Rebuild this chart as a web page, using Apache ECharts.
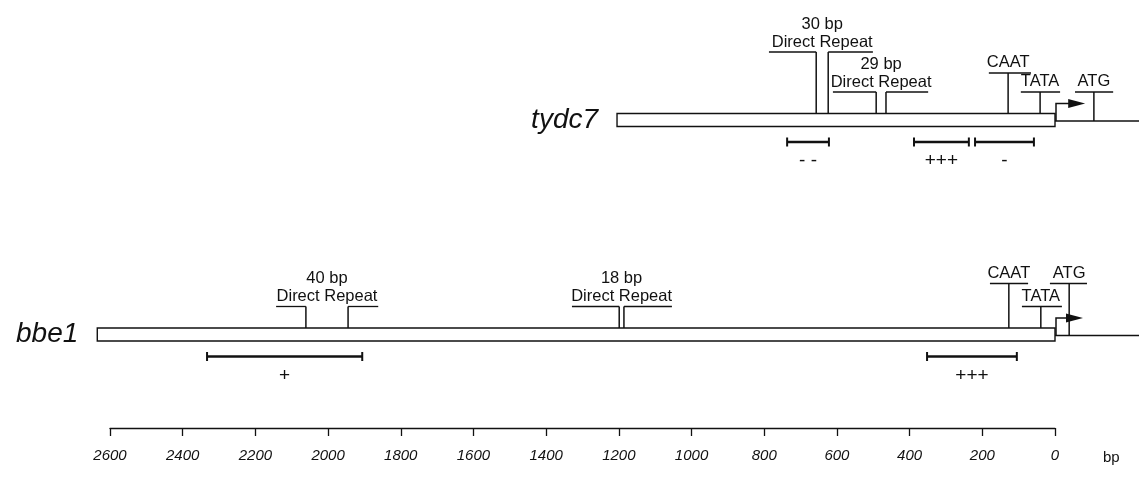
<!DOCTYPE html>
<html>
<head>
    <meta charset="UTF-8">
    <title>tydc7 / bbe1 promoter map</title>
    <script type="text/javascript" src="https://cdn.jsdelivr.net/npm/echarts@6/dist/echarts.min.js"></script>
    <style>
        html,body{
            margin: 0;
            padding: 0;
            background: #fff;
        }
        #main{
            width: 1139px;
            height: 493px;
        }
    </style>
</head>
<body>
<div id="main"></div>
<script>
    // positions are bp upstream of the transcription start (negative = downstream)
    var geneNames = ['tydc7', 'bbe1'];
    var promoterStart = [1205, 2635];
    var codingEnd = [-240, -240];
    var arrowTip = [-83, -77];

    // direct repeats: [bar start, post] on the left, [post, bar end] on the right
    var repeatGene = [0, 0, 1, 1];
    var repeatSize = ['30 bp', '29 bp', '40 bp', '18 bp'];
    var repeatLeftBar = [[787, 657], [611, 492], [2143, 2061], [1329, 1199]];
    var repeatRightBar = [[624, 501], [465, 349], [1945, 1862], [1186, 1054]];

    // CAAT / TATA / ATG
    var motifGene = [0, 0, 0, 1, 1, 1];
    var motifName = ['CAAT', 'TATA', 'ATG', 'CAAT', 'TATA', 'ATG'];
    var motifPos = [129, 41, -107, 127, 39, -39];
    var motifBar = [[182, 66], [94, -14], [-55, -160], [179, 74], [91, -19], [14, -88]];

    // deletion fragments and their activity
    var delGene = [0, 0, 0, 1, 1];
    var delFrom = [737, 388, 220, 2333, 352];
    var delTo = [622, 237, 58, 1906, 105];
    var delActivity = ['- -', '+++', '-', '+', '+++'];

    // scale bar
    var scaleMin = 0;
    var scaleMax = 2600;
    var scaleStep = 200;

    // ---- layout (heights in px above the middle of the promoter box) ----
    var repeatLevel = [68, 28, 28, 28];
    var motifLevel = [47, 28, 28, 51, 28, 51];
    var trackTop = [0, 214.5];
    var BOX_H = 6.5;
    var ARROW_Y = 16.5;
    var LINE_Y = -1;
    var DEL_Y = -22;
    var DEL_TXT = -41;
    var INK = '#111';
    var FONT = '"Liberation Sans", Arial, sans-serif';

    function txt(s, x, y, size, italic, align) {
        return {
            type: 'text',
            style: {
                text: s, x: x, y: y, fill: INK,
                fontSize: size, fontFamily: FONT,
                fontStyle: italic ? 'italic' : 'normal',
                align: align || 'center', verticalAlign: 'middle'
            }
        };
    }
    function seg(x1, y1, x2, y2, w) {
        return {type: 'line', shape: {x1: x1, y1: y1, x2: x2, y2: y2}, style: {stroke: INK, lineWidth: w || 1.4}};
    }

    function renderGene(params, api) {
        var g = api.value(4);
        var s = api.coord([api.value(0), 0]);
        var e = api.coord([api.value(1), 0]);
        var top = api.coord([0, BOX_H])[1];
        var bot = api.coord([0, -BOX_H])[1];
        var lineY = api.coord([0, LINE_Y])[1];
        var cEnd = api.coord([api.value(2), 0])[0];
        var tip = api.coord([api.value(3), ARROW_Y]);
        return {
            type: 'group',
            children: [
                {type: 'rect', shape: {x: s[0], y: top, width: e[0] - s[0], height: bot - top},
                    style: {fill: '#fff', stroke: INK, lineWidth: 1.4}},
                seg(e[0], lineY, cEnd, lineY, 1.3),
                {type: 'polyline', shape: {points: [[e[0] + 1, lineY], [e[0] + 1, tip[1]], [tip[0] - 12, tip[1]]]},
                    style: {stroke: INK, lineWidth: 1.5, fill: 'none'}},
                {type: 'polygon', shape: {points: [[tip[0] - 17, tip[1] - 4.5], [tip[0], tip[1]], [tip[0] - 17, tip[1] + 4.5]]},
                    style: {fill: INK}},
                txt(geneNames[g], s[0] - 19, s[1], 28, true, 'right')
            ]
        };
    }

    function renderRepeat(params, api) {
        var i = api.value(5);
        var lv = api.value(4);
        var boxTop = api.coord([0, BOX_H])[1];
        var a = api.coord([api.value(0), lv]);
        var p1 = api.coord([api.value(1), lv]);
        var p2 = api.coord([api.value(2), lv]);
        var b = api.coord([api.value(3), lv]);
        var mid = (p1[0] + p2[0]) / 2;
        return {
            type: 'group',
            children: [
                seg(a[0], a[1], p1[0], p1[1], 1.3),
                seg(p1[0], p1[1], p1[0], boxTop, 1.5),
                seg(p2[0], p2[1], p2[0], boxTop, 1.5),
                seg(p2[0], p2[1], b[0], b[1], 1.3),
                txt('Direct Repeat', mid, api.coord([0, lv + 10])[1], 16.5),
                txt(repeatSize[i], mid, api.coord([0, lv + 28])[1], 16.5)
            ]
        };
    }

    function renderMotif(params, api) {
        var i = api.value(4);
        var lv = api.value(3);
        var p = api.coord([api.value(0), lv]);
        var base = motifName[i] === 'ATG' ? LINE_Y : BOX_H;
        var baseY = api.coord([0, base])[1];
        var b1 = api.coord([api.value(1), lv]);
        var b2 = api.coord([api.value(2), lv]);
        return {
            type: 'group',
            children: [
                seg(p[0], baseY, p[0], p[1], 1.5),
                seg(b1[0], b1[1], b2[0], b2[1], 1.3),
                txt(motifName[i], p[0], api.coord([0, lv + 10.5])[1], 16.5)
            ]
        };
    }

    function renderDeletion(params, api) {
        var i = api.value(2);
        var a = api.coord([api.value(0), DEL_Y]);
        var b = api.coord([api.value(1), DEL_Y]);
        return {
            type: 'group',
            children: [
                seg(a[0], a[1], b[0], b[1], 2.4),
                seg(a[0], a[1] - 4.5, a[0], a[1] + 4.5, 2),
                seg(b[0], b[1] - 4.5, b[0], b[1] + 4.5, 2),
                txt(delActivity[i], (a[0] + b[0]) / 2, api.coord([0, DEL_TXT])[1], 19)
            ]
        };
    }

    var grids = [], xAxes = [], yAxes = [], series = [];
    for (var g = 0; g < geneNames.length; g++) {
        grids.push({left: 110, right: 84, top: trackTop[g], height: 190});
        xAxes.push({gridIndex: g, type: 'value', min: scaleMin, max: scaleMax, inverse: true, show: false});
        yAxes.push({gridIndex: g, type: 'value', min: -70, max: 120, show: false});

        series.push({
            type: 'custom', xAxisIndex: g, yAxisIndex: g, clip: false, silent: true,
            renderItem: renderGene,
            data: [[promoterStart[g], 0, codingEnd[g], arrowTip[g], g]]
        });

        var rep = [];
        for (var i = 0; i < repeatGene.length; i++) {
            if (repeatGene[i] === g) {
                rep.push([repeatLeftBar[i][0], repeatLeftBar[i][1], repeatRightBar[i][0], repeatRightBar[i][1], repeatLevel[i], i]);
            }
        }
        series.push({type: 'custom', xAxisIndex: g, yAxisIndex: g, clip: false, silent: true,
            renderItem: renderRepeat, data: rep});

        var mot = [];
        for (var i = 0; i < motifGene.length; i++) {
            if (motifGene[i] === g) {
                mot.push([motifPos[i], motifBar[i][0], motifBar[i][1], motifLevel[i], i]);
            }
        }
        series.push({type: 'custom', xAxisIndex: g, yAxisIndex: g, clip: false, silent: true,
            renderItem: renderMotif, data: mot});

        var del = [];
        for (var i = 0; i < delGene.length; i++) {
            if (delGene[i] === g) {
                del.push([delFrom[i], delTo[i], i]);
            }
        }
        series.push({type: 'custom', xAxisIndex: g, yAxisIndex: g, clip: false, silent: true,
            renderItem: renderDeletion, data: del});
    }

    // scale bar
    grids.push({left: 110, right: 84, top: 400, height: 28});
    xAxes.push({
        gridIndex: 2, type: 'value', min: scaleMin, max: scaleMax, interval: scaleStep, inverse: true,
        name: 'bp', nameLocation: 'start', nameGap: 48,
        nameTextStyle: {color: INK, fontSize: 15, fontFamily: FONT, verticalAlign: 'top', padding: [22, 0, 0, 0]},
        axisLine: {lineStyle: {color: INK, width: 1.3}},
        axisTick: {length: 8, lineStyle: {color: INK, width: 1.3}},
        axisLabel: {
            margin: 20, color: INK, fontSize: 15, fontStyle: 'italic', fontFamily: FONT,
            formatter: function (v) { return String(v); }
        },
        splitLine: {show: false}
    });
    yAxes.push({gridIndex: 2, type: 'value', show: false});

    var chart = echarts.init(document.getElementById('main'));
    chart.setOption({
        animation: false,
        backgroundColor: '#fff',
        grid: grids,
        xAxis: xAxes,
        yAxis: yAxes,
        series: series
    });
</script>
</body>
</html>
